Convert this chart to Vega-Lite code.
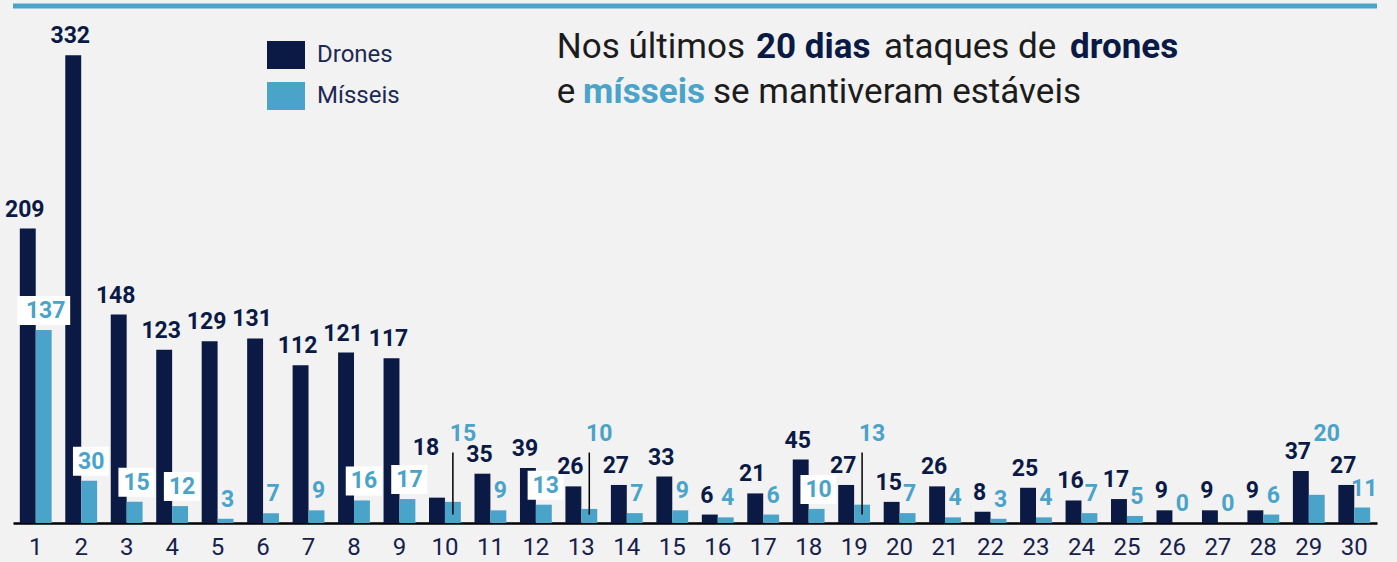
{
  "$schema": "https://vega.github.io/schema/vega-lite/v6.json",
  "width": 1364,
  "height": 517,
  "autosize": {"type": "none"},
  "padding": {"left": 13, "top": 6, "right": 20, "bottom": 39},
  "background": "#f2f2f2",
  "config": {
    "view": {"stroke": null},
    "font": "Roboto",
    "axisX": {"labelAngle": 0, "ticks": false, "tickSize": 0, "labelPadding": 31, "labelBaseline": "alphabetic",
      "labelFontSize": 24, "labelColor": "#16214a", "labelFont": "Roboto", "domainColor": "#000000", "domainWidth": 2.5, "grid": false}
  },
  "data": {"values": [
    {"day": 1, "series": "Drones", "value": 209}, {"day": 1, "series": "Mísseis", "value": 137},
    {"day": 2, "series": "Drones", "value": 332}, {"day": 2, "series": "Mísseis", "value": 30},
    {"day": 3, "series": "Drones", "value": 148}, {"day": 3, "series": "Mísseis", "value": 15},
    {"day": 4, "series": "Drones", "value": 123}, {"day": 4, "series": "Mísseis", "value": 12},
    {"day": 5, "series": "Drones", "value": 129}, {"day": 5, "series": "Mísseis", "value": 3},
    {"day": 6, "series": "Drones", "value": 131}, {"day": 6, "series": "Mísseis", "value": 7},
    {"day": 7, "series": "Drones", "value": 112}, {"day": 7, "series": "Mísseis", "value": 9},
    {"day": 8, "series": "Drones", "value": 121}, {"day": 8, "series": "Mísseis", "value": 16},
    {"day": 9, "series": "Drones", "value": 117}, {"day": 9, "series": "Mísseis", "value": 17},
    {"day": 10, "series": "Drones", "value": 18}, {"day": 10, "series": "Mísseis", "value": 15},
    {"day": 11, "series": "Drones", "value": 35}, {"day": 11, "series": "Mísseis", "value": 9},
    {"day": 12, "series": "Drones", "value": 39}, {"day": 12, "series": "Mísseis", "value": 13},
    {"day": 13, "series": "Drones", "value": 26}, {"day": 13, "series": "Mísseis", "value": 10},
    {"day": 14, "series": "Drones", "value": 27}, {"day": 14, "series": "Mísseis", "value": 7},
    {"day": 15, "series": "Drones", "value": 33}, {"day": 15, "series": "Mísseis", "value": 9},
    {"day": 16, "series": "Drones", "value": 6}, {"day": 16, "series": "Mísseis", "value": 4},
    {"day": 17, "series": "Drones", "value": 21}, {"day": 17, "series": "Mísseis", "value": 6},
    {"day": 18, "series": "Drones", "value": 45}, {"day": 18, "series": "Mísseis", "value": 10},
    {"day": 19, "series": "Drones", "value": 27}, {"day": 19, "series": "Mísseis", "value": 13},
    {"day": 20, "series": "Drones", "value": 15}, {"day": 20, "series": "Mísseis", "value": 7},
    {"day": 21, "series": "Drones", "value": 26}, {"day": 21, "series": "Mísseis", "value": 4},
    {"day": 22, "series": "Drones", "value": 8}, {"day": 22, "series": "Mísseis", "value": 3},
    {"day": 23, "series": "Drones", "value": 25}, {"day": 23, "series": "Mísseis", "value": 4},
    {"day": 24, "series": "Drones", "value": 16}, {"day": 24, "series": "Mísseis", "value": 7},
    {"day": 25, "series": "Drones", "value": 17}, {"day": 25, "series": "Mísseis", "value": 5},
    {"day": 26, "series": "Drones", "value": 9}, {"day": 26, "series": "Mísseis", "value": 0},
    {"day": 27, "series": "Drones", "value": 9}, {"day": 27, "series": "Mísseis", "value": 0},
    {"day": 28, "series": "Drones", "value": 9}, {"day": 28, "series": "Mísseis", "value": 6},
    {"day": 29, "series": "Drones", "value": 37}, {"day": 29, "series": "Mísseis", "value": 20},
    {"day": 30, "series": "Drones", "value": 27}, {"day": 30, "series": "Mísseis", "value": 11}
  ]},
  "layer": [
    {
      "data": {"values": [{}]},
      "mark": {"type": "rule", "color": "#4aa3c8", "strokeWidth": 5},
      "encoding": {"y": {"datum": 367, "type": "quantitative", "scale": {"domain": [0, 367], "nice": false, "zero": true}, "axis": null}}
    },
    {
      "mark": {"type": "bar"},
      "encoding": {
        "x": {"field": "day", "type": "ordinal", "title": null, "scale": {"paddingInner": 0.3, "paddingOuter": 0.15}},
        "xOffset": {"field": "series", "type": "nominal", "sort": ["Drones", "Mísseis"], "scale": {"paddingInner": 0, "paddingOuter": 0}},
        "y": {"field": "value", "type": "quantitative", "scale": {"domain": [0, 367], "nice": false}, "axis": null},
        "color": {"field": "series", "type": "nominal",
          "scale": {"domain": ["Drones", "Mísseis"], "range": ["#0a1a44", "#4aa3c8"]},
          "legend": {"orient": "none", "legendX": 254, "legendY": 30, "title": null, "symbolType": "M-1,-0.74H1V0.74H-1Z",
            "symbolSize": 1444, "symbolStrokeWidth": 0, "symbolOpacity": 1, "labelFontSize": 24, "labelColor": "#1b2a52",
            "labelFont": "Roboto", "labelOffset": 12, "rowPadding": 7, "padding": 0}}
      }
    },
    {
      "transform": [{"filter": "datum.series === 'Mísseis' && indexof([2,3,4,8,9,12,18], datum.day) >= 0"}],
      "mark": {"type": "point", "shape": "M-0.9,-1.889H1.1V-0.278H-0.9Z", "size": 1296, "filled": true, "color": "#ffffff", "opacity": 1, "strokeWidth": 0},
      "encoding": {
        "x": {"field": "day", "type": "ordinal", "title": null},
        "xOffset": {"field": "series", "type": "nominal"},
        "y": {"field": "value", "type": "quantitative", "axis": null}
      }
    },
    {
      "transform": [{"filter": "datum.series === 'Mísseis' && datum.day === 1"}],
      "mark": {"type": "point", "shape": "M-1,-1.283H1V-0.189H-1Z", "size": 2809, "filled": true, "color": "#ffffff", "opacity": 1, "strokeWidth": 0},
      "encoding": {
        "x": {"field": "day", "type": "ordinal", "title": null},
        "xOffset": {"field": "series", "type": "nominal"},
        "y": {"field": "value", "type": "quantitative", "axis": null}
      }
    },
    {
      "transform": [{"filter": "datum.series === 'Mísseis' && indexof([10,13,19], datum.day) >= 0"}],
      "mark": {"type": "rule", "color": "#000000", "strokeWidth": 1.5},
      "encoding": {
        "x": {"field": "day", "type": "ordinal", "title": null},
        "xOffset": {"field": "series", "type": "nominal"},
        "y": {"datum": 6, "type": "quantitative", "axis": null},
        "y2": {"datum": 50}
      }
    },
    {
      "transform": [{"filter": "datum.series === 'Drones' && datum.day !== 10"}],
      "mark": {"type": "text", "font": "Roboto", "fontWeight": "bold", "fontSize": 23, "color": "#0a1a44", "baseline": "alphabetic", "dy": -12, "dx": -3},
      "encoding": {
        "x": {"field": "day", "type": "ordinal", "title": null},
        "xOffset": {"field": "series", "type": "nominal"},
        "y": {"field": "value", "type": "quantitative", "axis": null},
        "text": {"field": "value", "type": "quantitative"}
      }
    },
    {
      "transform": [{"filter": "datum.series === 'Drones' && datum.day === 10"}],
      "mark": {"type": "text", "font": "Roboto", "fontWeight": "bold", "fontSize": 23, "color": "#0a1a44", "baseline": "alphabetic", "dx": -11},
      "encoding": {
        "x": {"field": "day", "type": "ordinal", "title": null},
        "xOffset": {"field": "series", "type": "nominal"},
        "y": {"datum": 48, "type": "quantitative", "axis": null},
        "text": {"field": "value", "type": "quantitative"}
      }
    },
    {
      "transform": [{"filter": "datum.series === 'Mísseis' && indexof([10,13,19,29], datum.day) < 0"}],
      "mark": {"type": "text", "font": "Roboto", "fontWeight": "bold", "fontSize": 23, "color": "#4aa3c8", "baseline": "alphabetic", "dy": -12, "dx": 2},
      "encoding": {
        "x": {"field": "day", "type": "ordinal", "title": null},
        "xOffset": {"field": "series", "type": "nominal"},
        "y": {"field": "value", "type": "quantitative", "axis": null},
        "text": {"field": "value", "type": "quantitative"}
      }
    },
    {
      "transform": [{"filter": "datum.series === 'Mísseis' && indexof([10,13,19,29], datum.day) >= 0"}],
      "mark": {"type": "text", "font": "Roboto", "fontWeight": "bold", "fontSize": 23, "color": "#4aa3c8", "baseline": "alphabetic", "dx": 10},
      "encoding": {
        "x": {"field": "day", "type": "ordinal", "title": null},
        "xOffset": {"field": "series", "type": "nominal"},
        "y": {"datum": 58, "type": "quantitative", "axis": null},
        "text": {"field": "value", "type": "quantitative"}
      }
    },
    {
      "data": {"values": [{}]},
      "mark": {"type": "text", "text": "Nos últimos", "font": "Roboto", "fontSize": 35, "color": "#1c1c1c", "align": "left", "baseline": "alphabetic", "dx": 21},
      "encoding": {"x": {"datum": 12, "type": "ordinal", "title": null}, "y": {"datum": 330.1, "type": "quantitative", "axis": null}}
    },
    {
      "data": {"values": [{}]},
      "mark": {"type": "text", "text": "20 dias", "font": "Roboto", "fontWeight": "bold", "fontSize": 35, "color": "#0a1a44", "align": "left", "baseline": "alphabetic", "dx": -7.2},
      "encoding": {"x": {"datum": 17, "type": "ordinal", "title": null}, "y": {"datum": 330.1, "type": "quantitative", "axis": null}}
    },
    {
      "data": {"values": [{}]},
      "mark": {"type": "text", "text": "ataques de", "font": "Roboto", "fontSize": 35, "color": "#1c1c1c", "align": "left", "baseline": "alphabetic", "dx": -15.6},
      "encoding": {"x": {"datum": 20, "type": "ordinal", "title": null}, "y": {"datum": 330.1, "type": "quantitative", "axis": null}}
    },
    {
      "data": {"values": [{}]},
      "mark": {"type": "text", "text": "drones", "font": "Roboto", "fontWeight": "bold", "fontSize": 35, "color": "#0a1a44", "align": "left", "baseline": "alphabetic", "dx": -11.5},
      "encoding": {"x": {"datum": 24, "type": "ordinal", "title": null}, "y": {"datum": 330.1, "type": "quantitative", "axis": null}}
    },
    {
      "data": {"values": [{}]},
      "mark": {"type": "text", "text": "e", "font": "Roboto", "fontSize": 35, "color": "#1c1c1c", "align": "left", "baseline": "alphabetic", "dx": 21},
      "encoding": {"x": {"datum": 12, "type": "ordinal", "title": null}, "y": {"datum": 298.1, "type": "quantitative", "axis": null}}
    },
    {
      "data": {"values": [{}]},
      "mark": {"type": "text", "text": "mísseis", "font": "Roboto", "fontWeight": "bold", "fontSize": 35, "color": "#4aa3c8", "align": "left", "baseline": "alphabetic", "dx": 1.6},
      "encoding": {"x": {"datum": 13, "type": "ordinal", "title": null}, "y": {"datum": 298.1, "type": "quantitative", "axis": null}}
    },
    {
      "data": {"values": [{}]},
      "mark": {"type": "text", "text": "se mantiveram estáveis", "font": "Roboto", "fontSize": 35, "color": "#1c1c1c", "align": "left", "baseline": "alphabetic", "dx": -4.7},
      "encoding": {"x": {"datum": 16, "type": "ordinal", "title": null}, "y": {"datum": 298.1, "type": "quantitative", "axis": null}}
    }
  ]
}
